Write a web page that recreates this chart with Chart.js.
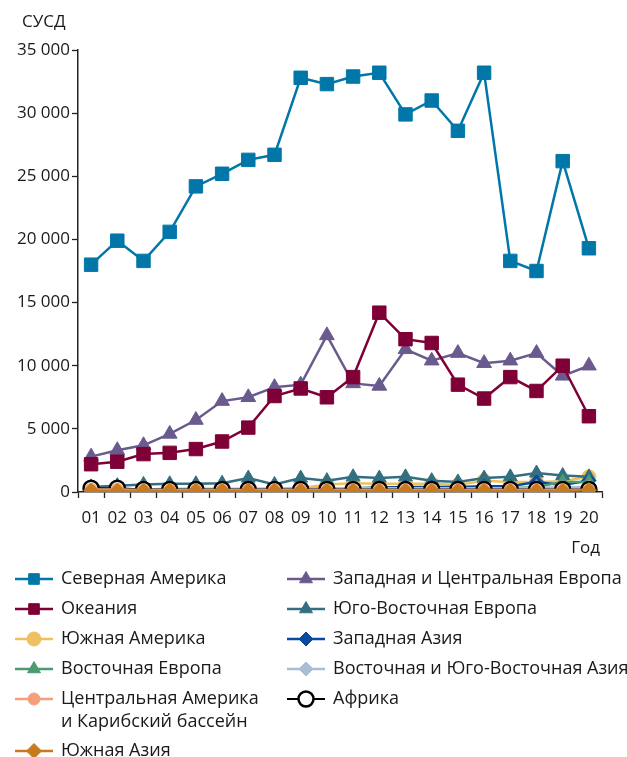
<!DOCTYPE html>
<html>
<head>
<meta charset="utf-8">
<script src="https://cdn.jsdelivr.net/npm/chart.js@4.4.1/dist/chart.umd.min.js"></script>
<style>
  html, body { margin: 0; padding: 0; background: #fff; }
  #wrap { width: 627px; height: 757px; position: relative; }
</style>
</head>
<body>
<div id="wrap"><canvas id="chart"></canvas></div>
<script>
// Годы (ось X)
const years = ['01', '02', '03', '04', '05', '06', '07', '08', '09', '10',
               '11', '12', '13', '14', '15', '16', '17', '18', '19', '20'];

// Ряды данных, СУСД
const northAmerica      = [18000, 19900, 18300, 20600, 24200, 25200, 26300, 26700, 32800, 32300,
                           32900, 33200, 29900, 31000, 28600, 33200, 18300, 17500, 26200, 19300];
const oceania           = [2200, 2400, 3000, 3100, 3400, 4000, 5100, 7600, 8200, 7500,
                           9100, 14200, 12100, 11800, 8500, 7400, 9100, 8000, 10000, 6000];
const westCentralEurope = [2800, 3300, 3700, 4600, 5700, 7200, 7500, 8300, 8500, 12400,
                           8600, 8400, 11300, 10400, 11000, 10200, 10400, 11000, 9200, 10000];
const southEastEurope   = [400, 500, 600, 650, 650, 700, 1100, 600, 1100, 900,
                           1200, 1100, 1200, 900, 800, 1100, 1200, 1500, 1300, 1200];
const southAmerica      = [200, 200, 200, 200, 200, 200, 200, 300, 300, 600,
                           700, 650, 650, 650, 550, 900, 800, 800, 850, 1200];
const westernAsia       = [150, 150, 150, 150, 150, 200, 200, 200, 250, 300,
                           300, 350, 400, 400, 400, 450, 450, 800, 550, 900];
const easternEurope     = [100, 100, 100, 100, 100, 150, 150, 150, 150, 150,
                           150, 200, 200, 200, 250, 300, 300, 400, 800, 800];
const eastSEAsia        = [200, 200, 200, 250, 250, 250, 250, 250, 300, 300,
                           300, 300, 300, 300, 300, 300, 300, 350, 350, 400];
const centralAmerica    = [200, 200, 150, 150, 150, 150, 150, 150, 150, 150,
                           150, 150, 150, 150, 150, 150, 150, 150, 150, 150];
const africa            = [300, 300, 200, 200, 200, 200, 200, 200, 200, 200,
                           200, 200, 200, 200, 200, 200, 200, 200, 200, 200];
const southAsia         = [100, 100, 100, 100, 100, 100, 100, 100, 100, 100,
                           100, 100, 100, 100, 100, 100, 100, 100, 100, 150];

const yTicks = [0, 5000, 10000, 15000, 20000, 25000, 30000, 35000];

const FONT = '"Open Sans", "Noto Sans", sans-serif';
const TEXT = '#1a1a1a';

// Вспомогательная функция для серии
function serie(key, label, data, color, style, radius, extra) {
    return Object.assign({
        key: key,
        label: label,
        data: data,
        borderColor: color,
        backgroundColor: color,
        pointBackgroundColor: color,
        pointBorderColor: color,
        pointBorderWidth: 1,
        pointStyle: style,
        pointRadius: radius,
        pointHoverRadius: radius,
        borderWidth: 2.5,
        tension: 0,
        fill: false,
    }, extra || {});
}

// Первый набор рисуется поверх остальных
const datasets = [
    serie('sasia', ['Южная Азия'], southAsia, '#c87b1e', 'rectRot', 7.5),
    serie('cam', ['Центральная Америка', 'и Карибский бассейн'], centralAmerica, '#f5a07a', 'circle', 6),
    serie('afr', ['Африка'], africa, '#000000', 'circle', 7.5,
          { pointBackgroundColor: '#ffffff', pointBorderWidth: 2.5, borderWidth: 2 }),
    serie('esea', ['Восточная и Юго-Восточная Азия'], eastSEAsia, '#a9bdd3', 'rectRot', 7),
    serie('eeu', ['Восточная Европа'], easternEurope, '#4b9a70', 'triangle', 8),
    serie('wasia', ['Западная Азия'], westernAsia, '#0a4a9e', 'rectRot', 7),
    serie('see', ['Юго-Восточная Европа'], southEastEurope, '#336f80', 'triangle', 8),
    serie('sam', ['Южная Америка'], southAmerica, '#efc062', 'circle', 7),
    serie('oce', ['Океания'], oceania, '#7e0036', 'rect', 9.5),
    serie('wce', ['Западная и Центральная Европа'], westCentralEurope, '#6a5a8e', 'triangle', 8.5),
    serie('nam', ['Северная Америка'], northAmerica, '#0077a8', 'rect', 9.5),
];

// Порядок легенды: две колонки
const legendLeft  = ['nam', 'oce', 'sam', 'eeu', 'cam', 'sasia'];
const legendRight = ['wce', 'see', 'wasia', 'esea', 'afr'];

const legendPlugin = {
    id: 'columnLegend',
    afterDraw(chart) {
        const ctx = chart.ctx;
        const byKey = {};
        chart.data.datasets.forEach(d => { byKey[d.key] = d; });

        function drawColumn(keys, x0, y0) {
            let y = y0;
            keys.forEach(k => {
                const d = byKey[k];
                ctx.save();
                ctx.strokeStyle = d.borderColor;
                ctx.lineWidth = d.borderWidth;
                ctx.beginPath();
                ctx.moveTo(x0, y);
                ctx.lineTo(x0 + 38, y);
                ctx.stroke();
                ctx.fillStyle = d.pointBackgroundColor;
                ctx.strokeStyle = d.pointBorderColor;
                ctx.lineWidth = d.pointBorderWidth;
                Chart.helpers.drawPoint(ctx, {
                    pointStyle: d.pointStyle,
                    radius: Math.min(d.pointRadius, 7.5),
                    rotation: 0,
                    borderWidth: d.pointBorderWidth,
                }, x0 + 19, y);
                ctx.fillStyle = TEXT;
                ctx.font = '18px ' + FONT;
                ctx.textBaseline = 'middle';
                ctx.textAlign = 'left';
                d.label.forEach((line, i) => {
                    ctx.fillText(line, x0 + 46, y + i * 23);
                });
                ctx.restore();
                y += 30 + (d.label.length - 1) * 22;
            });
        }
        drawColumn(legendLeft, 15, 579);
        drawColumn(legendRight, 287, 579);

        // Подписи осей
        ctx.save();
        ctx.fillStyle = TEXT;
        ctx.font = '17px ' + FONT;
        ctx.textBaseline = 'middle';
        ctx.textAlign = 'left';
        ctx.fillText('СУСД', 22, 22);
        ctx.textAlign = 'right';
        ctx.fillText('Год', 600, 548);
        ctx.restore();
    }
};

new Chart(document.getElementById('chart'), {
    type: 'line',
    data: {
        labels: years,
        datasets: datasets,
    },
    options: {
        responsive: true,
        maintainAspectRatio: false,
        animation: false,
        layout: { padding: { top: 50, right: 25, left: 0, bottom: 0 } },
        plugins: {
            legend: { display: false },
            tooltip: { enabled: false },
        },
        scales: {
            x: {
                offset: true,
                afterFit: (s) => { s.height = 757 - 492; },
                grid: {
                    offset: true,
                    drawOnChartArea: false,
                    tickLength: 6,
                    tickColor: '#222',
                    tickWidth: 1.3,
                },
                border: { display: true, color: '#222', width: 1.5 },
                ticks: {
                    color: TEXT,
                    font: { family: FONT, size: 17 },
                    padding: 10,
                    maxRotation: 0,
                    autoSkip: false,
                },
            },
            y: {
                min: 0,
                max: 35000,
                afterFit: (s) => { s.width = 78; },
                afterBuildTicks: (s) => { s.ticks = yTicks.map(v => ({ value: v })); },
                grid: {
                    drawOnChartArea: false,
                    tickLength: 6,
                    tickColor: '#222',
                    tickWidth: 1.3,
                },
                border: { display: true, color: '#222', width: 1.5 },
                ticks: {
                    color: TEXT,
                    font: { family: FONT, size: 17 },
                    padding: 2,
                    callback: (v) => String(v).replace(/\B(?=(\d{3})+(?!\d))/g, ' '),
                },
            },
        },
    },
    plugins: [legendPlugin],
});
</script>
</body>
</html>
